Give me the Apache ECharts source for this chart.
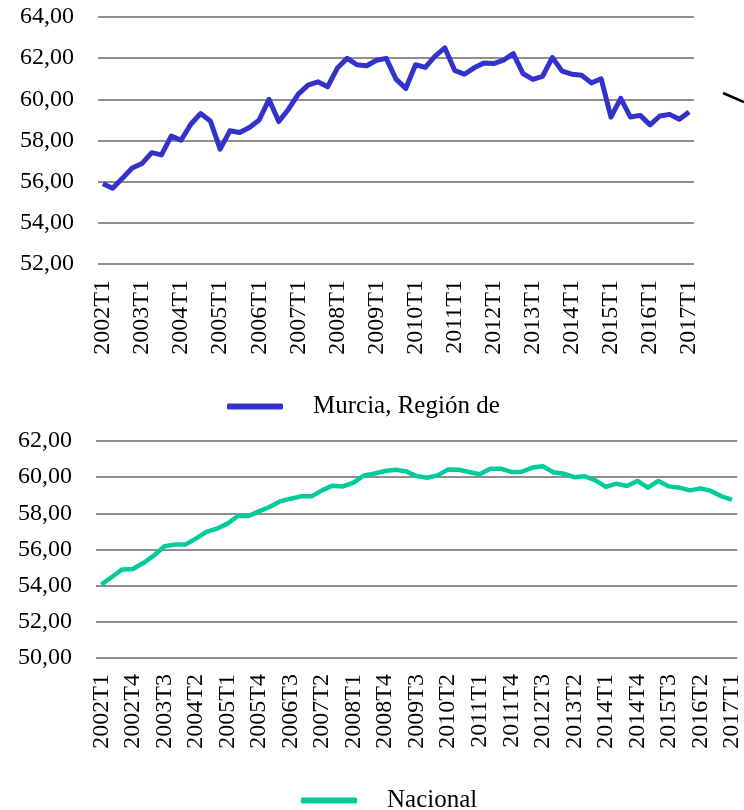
<!DOCTYPE html>
<html>
<head>
<meta charset="utf-8">
<script src="https://cdn.jsdelivr.net/npm/echarts@6/dist/echarts.min.js"></script>
<style>
  html, body { margin: 0; padding: 0; background: #fff; }
  #main { width: 744px; height: 810px; }
</style>
</head>
<body>
<div id="main"></div>
<script>
// trimestres 2002T1 .. 2017T1
var quarters = [
  "2002T1","2002T2","2002T3","2002T4","2003T1","2003T2","2003T3","2003T4",
  "2004T1","2004T2","2004T3","2004T4","2005T1","2005T2","2005T3","2005T4",
  "2006T1","2006T2","2006T3","2006T4","2007T1","2007T2","2007T3","2007T4",
  "2008T1","2008T2","2008T3","2008T4","2009T1","2009T2","2009T3","2009T4",
  "2010T1","2010T2","2010T3","2010T4","2011T1","2011T2","2011T3","2011T4",
  "2012T1","2012T2","2012T3","2012T4","2013T1","2013T2","2013T3","2013T4",
  "2014T1","2014T2","2014T3","2014T4","2015T1","2015T2","2015T3","2015T4",
  "2016T1","2016T2","2016T3","2016T4","2017T1"
];

// Murcia, Región de
var murcia = [
  55.90, 55.68, 56.17, 56.66, 56.88, 57.41, 57.30, 58.22,
  58.01, 58.79, 59.31, 58.95, 57.58, 58.47, 58.39, 58.63,
  59.00, 60.00, 58.92, 59.52, 60.25, 60.69, 60.85, 60.61,
  61.52, 61.99, 61.68, 61.63, 61.90, 61.99, 60.98, 60.53,
  61.68, 61.55, 62.10, 62.50, 61.41, 61.22, 61.53, 61.77,
  61.74, 61.90, 62.22, 61.25, 60.97, 61.12, 62.03, 61.37,
  61.22, 61.17, 60.80, 61.00, 59.14, 60.05, 59.14, 59.22,
  58.76, 59.19, 59.27, 59.03, 59.39
];

// Nacional
var nacional = [
  54.06, 54.48, 54.90, 54.92, 55.25, 55.66, 56.18, 56.27,
  56.27, 56.60, 56.97, 57.15, 57.43, 57.85, 57.85, 58.11,
  58.35, 58.66, 58.81, 58.94, 58.94, 59.27, 59.53, 59.49,
  59.70, 60.10, 60.20, 60.34, 60.41, 60.32, 60.06, 59.97,
  60.10, 60.43, 60.41, 60.29, 60.16, 60.47, 60.47, 60.29,
  60.30, 60.53, 60.60, 60.27, 60.19, 60.00, 60.05, 59.82,
  59.46, 59.64, 59.51, 59.79, 59.42, 59.79, 59.49, 59.42,
  59.27, 59.38, 59.24, 58.94, 58.76
];

var serif = "'Liberation Serif', 'DejaVu Serif', serif";
var gridColor = "#8f8f8f";

function fmt(v) {
  return v.toFixed(2).replace(".", ",");
}

function xAxisCfg(gridIndex, labelInterval) {
  return {
    type: "category",
    gridIndex: gridIndex,
    data: quarters,
    boundaryGap: true,
    axisLine: { show: false },
    axisTick: { show: false },
    splitLine: { show: false },
    axisLabel: {
      interval: labelInterval,
      rotate: 90,
      margin: 16,
      color: "#000",
      fontFamily: serif,
      fontSize: 24
    }
  };
}

function yAxisCfg(gridIndex, min, max) {
  return {
    type: "value",
    gridIndex: gridIndex,
    min: min,
    max: max,
    interval: 2,
    axisLine: { show: false },
    axisTick: { show: false },
    splitLine: { show: true, lineStyle: { color: gridColor, width: 2 } },
    axisLabel: {
      margin: 24,
      color: "#000",
      fontFamily: serif,
      fontSize: 24,
      formatter: fmt
    }
  };
}

var myChart = echarts.init(document.getElementById("main"));
myChart.setOption({
  backgroundColor: "#fff",
  animation: false,
  grid: [
    { left: 98, right: 50, top: 17, height: 247 },
    { left: 96, right: 5, top: 441, height: 217 }
  ],
  xAxis: [xAxisCfg(0, 3), xAxisCfg(1, 2)],
  yAxis: [yAxisCfg(0, 52, 64), yAxisCfg(1, 50, 62)],
  legend: [
    {
      data: ["Murcia, Región de"],
      left: 222,
      top: 389,
      icon: "roundRect",
      itemWidth: 56,
      itemHeight: 6,
      textStyle: { color: "#000", fontFamily: serif, fontSize: 25, padding: [0, 0, 0, 25] }
    },
    {
      data: ["Nacional"],
      left: 296,
      top: 783,
      icon: "roundRect",
      itemWidth: 56,
      itemHeight: 6,
      textStyle: { color: "#000", fontFamily: serif, fontSize: 25, padding: [0, 0, 0, 25] }
    }
  ],
  graphic: [
    {
      type: "line",
      shape: { x1: 723, y1: 93, x2: 744, y2: 102 },
      style: { stroke: "#000", lineWidth: 2.5 }
    }
  ],
  series: [
    {
      name: "Murcia, Región de",
      type: "line",
      xAxisIndex: 0,
      yAxisIndex: 0,
      data: murcia,
      symbol: "none",
      color: "#3333cc",
      lineStyle: { color: "#3333cc", width: 5, join: "round" }
    },
    {
      name: "Nacional",
      type: "line",
      xAxisIndex: 1,
      yAxisIndex: 1,
      data: nacional,
      symbol: "none",
      color: "#00cc99",
      lineStyle: { color: "#00cc99", width: 4.5, join: "round" }
    }
  ]
});
</script>
</body>
</html>
